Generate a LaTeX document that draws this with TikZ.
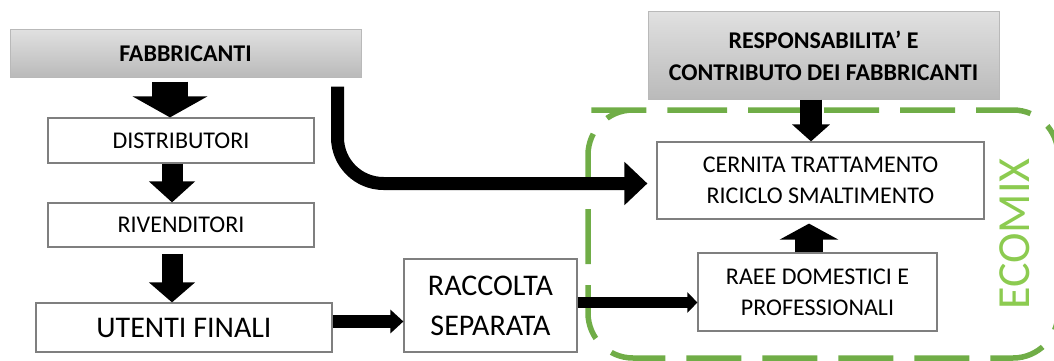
\documentclass[tikz,border=0pt]{standalone}
\usepackage{fontspec}
\setmainfont{Carlito}
\usetikzlibrary{arrows.meta, positioning, calc}
\definecolor{boxgray}{RGB}{127, 127, 127}
\definecolor{shadetop}{RGB}{224, 224, 224}
\definecolor{shadebot}{RGB}{186, 186, 186}
\definecolor{ecogreen}{RGB}{112, 173, 71}
\definecolor{ecotext}{RGB}{140, 203, 80}
\tikzset{
  stagebox/.style={rectangle, draw=boxgray, line width=1.2pt, fill=white, align=center, inner sep=0pt, font=\fontsize{24}{31}\selectfont},
  bigbox/.style={stagebox, font=\fontsize{30}{40}\selectfont},
  headbox/.style={rectangle, draw=gray!55, line width=1pt, top color=shadetop, bottom color=shadebot, align=center, inner sep=0pt, font=\fontsize{24}{32}\selectfont\bfseries},
  blockarrow/.style n args={3}{line width=#1, black, -{Triangle[length=#2, width=#3]}},
  ecoframe/.style={draw=ecogreen, line width=5.5pt, rounded corners=45pt, dash pattern=on 55pt off 21pt, dash phase=6pt}
}
\begin{document}
\begin{tikzpicture}[x=1pt, y=-1pt]
    \useasboundingbox (0,0) rectangle (1054,361);

    % ECOMIX frame
    \draw[ecoframe] (633,110) -- (1058,110) -- (1058,358) -- (588,358) -- (588,110) -- cycle;
    \node[rotate=90, text=ecotext, font=\fontsize{46}{46}\selectfont] (ecomix) at (1014.5,234) {ECOMIX};

    % chain of the fabbricanti
    \node[headbox, minimum width=351pt, minimum height=47pt] (fab) at (185.5,53.5) {FABBRICANTI};
    \node[stagebox, minimum width=266pt, minimum height=45pt] (dist) at (181,140.5) {DISTRIBUTORI};
    \node[stagebox, minimum width=266pt, minimum height=44pt] (riv) at (181,225) {RIVENDITORI};
    \node[bigbox, minimum width=296pt, minimum height=49pt] (ute) at (184,327.5) {UTENTI FINALI};
    \node[bigbox, minimum width=173pt, minimum height=93pt] (rac) at (490.5,305.5) {RACCOLTA\\SEPARATA};

    % right part
    \node[headbox, minimum width=351pt, minimum height=87pt] (resp) at (823.5,55.5) {RESPONSABILITA’ E\\CONTRIBUTO DEI FABBRICANTI};
    \node[stagebox, minimum width=327pt, minimum height=77pt] (cern) at (820.5,180.5) {CERNITA TRATTAMENTO\\RICICLO SMALTIMENTO};
    \node[stagebox, minimum width=239pt, minimum height=78pt] (raee) at (817.5,292) {RAEE DOMESTICI E\\PROFESSIONALI};

    % arrows
    \draw[blockarrow={36pt}{21pt}{74pt}, shorten <=4pt] ([xshift=-15.5pt]fab.south) -- ([xshift=-11pt]dist.north);
    \draw[blockarrow={21pt}{21pt}{45pt}] ([xshift=-9pt]dist.south) -- ([xshift=-9pt]riv.north);
    \draw[blockarrow={21pt}{20pt}{45pt}, shorten <=6pt] ([xshift=-9pt]riv.south) -- ([xshift=-12pt]ute.north);
    \draw[blockarrow={13pt}{13pt}{23pt}] ([yshift=6pt]ute.east) -- ([yshift=6pt]ute.east -| rac.west);
    \draw[blockarrow={11pt}{10pt}{20pt}] ([yshift=3pt]rac.east) -- ([yshift=3pt]rac.east -| raee.west);
    \draw[blockarrow={22pt}{17pt}{37pt}] ([xshift=-12.5pt]resp.south) -- ([xshift=-9.5pt]cern.north);
    \draw[blockarrow={28pt}{16pt}{58pt}, shorten >=4pt] ([xshift=-8.5pt]raee.north) -- ([xshift=-11.5pt]cern.south);
    \draw[blockarrow={13pt}{23pt}{42pt}, rounded corners=46pt] ([xshift=-24pt,yshift=-9pt]fab.south east) |- ([xshift=-9pt,yshift=-3pt]cern.west);
\end{tikzpicture}
\end{document}
